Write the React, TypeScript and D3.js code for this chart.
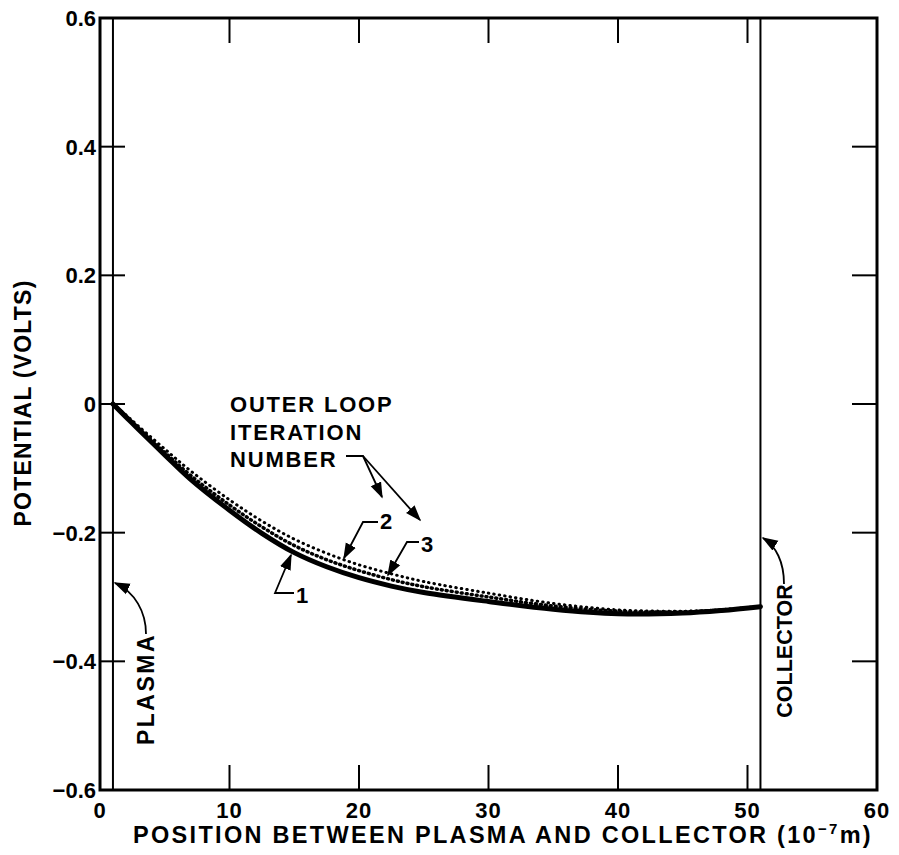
import React from "react";
import * as d3 from "d3";

// positions (10^-7 m) and potentials (V)
const positions = [1, 2, 3, 5, 7, 10, 12.5, 15, 17.5, 20, 22.5, 25, 30, 35, 40, 45, 48, 51];
const iter1 = [0, -0.02, -0.04, -0.079, -0.117, -0.165, -0.201, -0.231, -0.253, -0.27, -0.283, -0.293, -0.307, -0.319, -0.326, -0.325, -0.321, -0.315];
const iter2 = [0, -0.019, -0.038, -0.075, -0.111, -0.157, -0.191, -0.22, -0.242, -0.259, -0.273, -0.284, -0.3, -0.314, -0.322, -0.323, -0.32, -0.315];
const iter3 = [0, -0.017, -0.035, -0.07, -0.104, -0.149, -0.182, -0.21, -0.232, -0.25, -0.264, -0.276, -0.294, -0.31, -0.32, -0.322, -0.32, -0.315];

const xTicks = [0, 10, 20, 30, 40, 50, 60];
const yTicks = [-0.6, -0.4, -0.2, 0, 0.2, 0.4, 0.6];
const plasmaPos = 1;
const collectorPos = 51;

const W = 899;
const H = 855;
const font = "'Liberation Sans', Arial, sans-serif";

export default function App() {
  const x = d3.scaleLinear().domain([0, 60]).range([100, 877]);
  const y = d3.scaleLinear().domain([-0.6, 0.6]).range([790, 18]);

  const line = d3
    .line<number>()
    .x((_, i) => x(positions[i]))
    .y((v) => y(v))
    .curve(d3.curveCatmullRom.alpha(0.5));

  const fmtY = (v: number) => (v === 0 ? "0" : v < 0 ? "\u2212" + Math.abs(v).toFixed(1) : v.toFixed(1));

  const [x0, x1] = x.range();
  const [y0, y1] = y.range();
  const tick = 25;

  return (
    <svg width={W} height={H} style={{ display: "block", position: "absolute", left: 0, top: 0, background: "#fff" }}>
      <defs>
        <marker id="arr" viewBox="0 0 10 10" refX="9" refY="5" markerWidth="9" markerHeight="9" orient="auto">
          <path d="M0,1.5 L10,5 L0,8.5 Z" fill="#000" />
        </marker>
      </defs>

      {/* frame */}
      <rect x={x0} y={y1} width={x1 - x0} height={y0 - y1} fill="none" stroke="#000" strokeWidth={3} />

      {/* ticks */}
      {xTicks.slice(1, -1).map((t) => (
        <g key={"xt" + t}>
          <line x1={x(t)} x2={x(t)} y1={y0} y2={y0 - tick} stroke="#000" strokeWidth={2} />
          <line x1={x(t)} x2={x(t)} y1={y1} y2={y1 + tick} stroke="#000" strokeWidth={2} />
        </g>
      ))}
      {yTicks.slice(1, -1).map((t) => (
        <g key={"yt" + t}>
          <line x1={x0} x2={x0 + tick} y1={y(t)} y2={y(t)} stroke="#000" strokeWidth={2} />
          <line x1={x1} x2={x1 - tick} y1={y(t)} y2={y(t)} stroke="#000" strokeWidth={2} />
        </g>
      ))}

      {/* tick labels */}
      {xTicks.map((t) => (
        <text key={"xl" + t} x={x(t)} y={818} textAnchor="middle" fontFamily={font} fontWeight="bold" fontSize={22} letterSpacing={1}>
          {t}
        </text>
      ))}
      {yTicks.map((t) => (
        <text key={"yl" + t} x={96} y={y(t) + 8} textAnchor="end" fontFamily={font} fontWeight="bold" fontSize={22}>
          {fmtY(t)}
        </text>
      ))}

      {/* plasma & collector boundaries */}
      <line x1={x(plasmaPos)} x2={x(plasmaPos)} y1={y1} y2={y0} stroke="#000" strokeWidth={2} />
      <line x1={x(collectorPos)} x2={x(collectorPos)} y1={y1} y2={y0} stroke="#000" strokeWidth={2} />

      {/* curves */}
      <path d={line(iter1) ?? ""} fill="none" stroke="#000" strokeWidth={5} strokeLinecap="round" />
      <path d={line(iter2) ?? ""} fill="none" stroke="#000" strokeWidth={3.5} strokeDasharray="1,4" strokeLinecap="round" />
      <path d={line(iter3) ?? ""} fill="none" stroke="#000" strokeWidth={3} strokeDasharray="0.5,5" strokeLinecap="round" />

      {/* annotations */}
      <g fontFamily={font} fontWeight="bold" fontSize={22} letterSpacing={1.8}>
        <text x={230} y={412}>OUTER LOOP</text>
        <text x={230} y={440}>ITERATION</text>
        <text x={230} y={467}>NUMBER</text>
        <text x={380} y={529}>2</text>
        <text x={421} y={552}>3</text>
        <text x={296} y={603}>1</text>
      </g>
      <g fill="none" stroke="#000" strokeWidth={1.8}>
        <polyline points="346,456 363,456 382,497" markerEnd="url(#arr)" />
        <line x1={363} y1={456} x2={420} y2={520} markerEnd="url(#arr)" />
        <polyline points="378,522 363,522 344,558" markerEnd="url(#arr)" />
        <polyline points="419,542 407,542 388,575" markerEnd="url(#arr)" />
        <polyline points="294,593 275,593 291,555" markerEnd="url(#arr)" />
        <path d="M146,634 C146,612 135,592 115,583" markerEnd="url(#arr)" />
        <path d="M784,584 C784,562 776,546 763,538" markerEnd="url(#arr)" />
      </g>

      <text
        transform={`translate(153.5,689) rotate(-90)`}
        textAnchor="middle"
        fontFamily={font}
        fontWeight="bold"
        fontSize={23}
        letterSpacing={2.5}
      >
        PLASMA
      </text>
      <text
        transform={`translate(792,651) rotate(-90)`}
        textAnchor="middle"
        fontFamily={font}
        fontWeight="bold"
        fontSize={21.5}
        letterSpacing={0}
      >
        COLLECTOR
      </text>

      {/* axis titles */}
      <text
        transform={`translate(31,403) rotate(-90)`}
        textAnchor="middle"
        fontFamily={font}
        fontWeight="bold"
        fontSize={23}
        letterSpacing={1.2}
      >
        POTENTIAL (VOLTS)
      </text>
      <text x={503} y={843} textAnchor="middle" fontFamily={font} fontWeight="bold" fontSize={23.5} letterSpacing={2.3}>
        POSITION BETWEEN PLASMA AND COLLECTOR (10
        <tspan dy={-9} fontSize={15}>
          {"\u22127"}
        </tspan>
        <tspan dy={9}>m)</tspan>
      </text>
    </svg>
  );
}
